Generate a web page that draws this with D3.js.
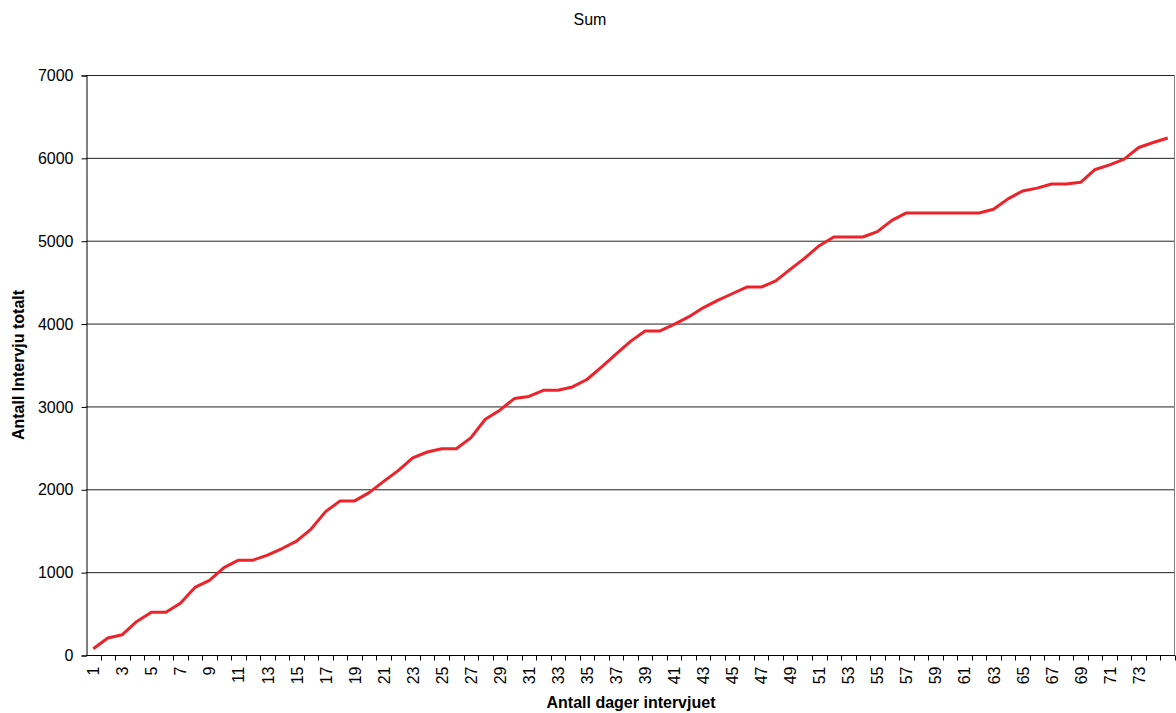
<!DOCTYPE html>
<html>
<head>
<meta charset="utf-8">
<script src="https://cdn.jsdelivr.net/npm/d3@7"></script>
<style>
  body { margin: 0; background: #fff; }
  text { font-family: "Liberation Sans", Arial, sans-serif; }
</style>
</head>
<body>
<div id="chart"></div>
<script>
const days = d3.range(1, 76);
const totals = [
  75, 205, 245, 405, 515, 515, 625, 815, 900, 1055,
  1145, 1145, 1205, 1285, 1375, 1520, 1730, 1860, 1860, 1960,
  2095, 2225, 2380, 2450, 2490, 2490, 2620, 2845, 2955, 3095,
  3120, 3195, 3195, 3235, 3325, 3475, 3630, 3785, 3910, 3910,
  3990, 4080, 4190, 4280, 4360, 4440, 4440, 4515, 4655, 4790,
  4940, 5045, 5045, 5045, 5110, 5245, 5335, 5335, 5335, 5335,
  5335, 5335, 5380, 5505, 5600, 5635, 5685, 5685, 5705, 5860,
  5915, 5985, 6125, 6185, 6240
];
const xLabels = d3.range(1, 74, 2);
const yTicks = [0, 1000, 2000, 3000, 4000, 5000, 6000, 7000];

const width = 1176, height = 713;
const margin = { top: 75, right: 1, bottom: 58, left: 86 };

const svg = d3.select("#chart")
  .append("svg")
  .attr("width", width)
  .attr("height", height);

const x = d3.scaleBand()
  .domain(days)
  .range([margin.left, width - margin.right]);

const y = d3.scaleLinear()
  .domain([0, 7000])
  .range([height - margin.bottom, margin.top]);

// gridlines
svg.append("g")
  .selectAll("line")
  .data(yTicks.slice(1))
  .join("line")
  .attr("x1", margin.left)
  .attr("x2", width - margin.right)
  .attr("y1", d => y(d) + 0.5)
  .attr("y2", d => y(d) + 0.5)
  .attr("stroke", "#222")
  .attr("stroke-width", 1);

// right border of plot area
svg.append("line")
  .attr("x1", width - margin.right - 0.5)
  .attr("x2", width - margin.right - 0.5)
  .attr("y1", margin.top)
  .attr("y2", height - margin.bottom)
  .attr("stroke", "#808080");

// y axis
const yAxis = svg.append("g")
  .attr("transform", `translate(${margin.left + 0.5},0.5)`)
  .call(d3.axisLeft(y).tickValues(yTicks).tickSize(5).tickPadding(8).tickFormat(d3.format("d")));
yAxis.select(".domain").attr("stroke", "#000");
yAxis.selectAll("text").attr("font-size", 16).attr("fill", "#000")
  .attr("font-family", "Liberation Sans, Arial, sans-serif");

// x axis: ticks at category boundaries
const xAxisG = svg.append("g")
  .attr("transform", `translate(0,${height - margin.bottom + 0.5})`);
xAxisG.append("line")
  .attr("x1", margin.left)
  .attr("x2", width - margin.right)
  .attr("stroke", "#000");
xAxisG.selectAll("line.tick")
  .data(days)
  .join("line")
  .attr("class", "tick")
  .attr("x1", d => Math.round(x(d) + x.bandwidth()) + 0.5)
  .attr("x2", d => Math.round(x(d) + x.bandwidth()) + 0.5)
  .attr("y1", 0)
  .attr("y2", 5)
  .attr("stroke", "#000");
xAxisG.selectAll("text")
  .data(xLabels)
  .join("text")
  .attr("transform", d => `translate(${x(d) + x.bandwidth() / 2 + 6},11) rotate(-90)`)
  .attr("text-anchor", "end")
  .attr("font-size", 16)
  .attr("fill", "#000")
  .text(d => d);

// line
const line = d3.line()
  .x((d, i) => x(days[i]) + x.bandwidth() / 2)
  .y(d => y(d));

svg.append("path")
  .datum(totals)
  .attr("fill", "none")
  .attr("stroke", "#ee2229")
  .attr("stroke-width", 3)
  .attr("stroke-linejoin", "round")
  .attr("d", line);

// titles
svg.append("text")
  .attr("x", 590)
  .attr("y", 25)
  .attr("text-anchor", "middle")
  .attr("font-size", 16)
  .text("Sum");

svg.append("text")
  .attr("x", 631)
  .attr("y", 708)
  .attr("text-anchor", "middle")
  .attr("font-size", 16)
  .attr("font-weight", "bold")
  .text("Antall dager intervjuet");

svg.append("text")
  .attr("transform", "translate(24,365) rotate(-90)")
  .attr("text-anchor", "middle")
  .attr("font-size", 16)
  .attr("font-weight", "bold")
  .text("Antall Intervju totalt");
</script>
</body>
</html>
